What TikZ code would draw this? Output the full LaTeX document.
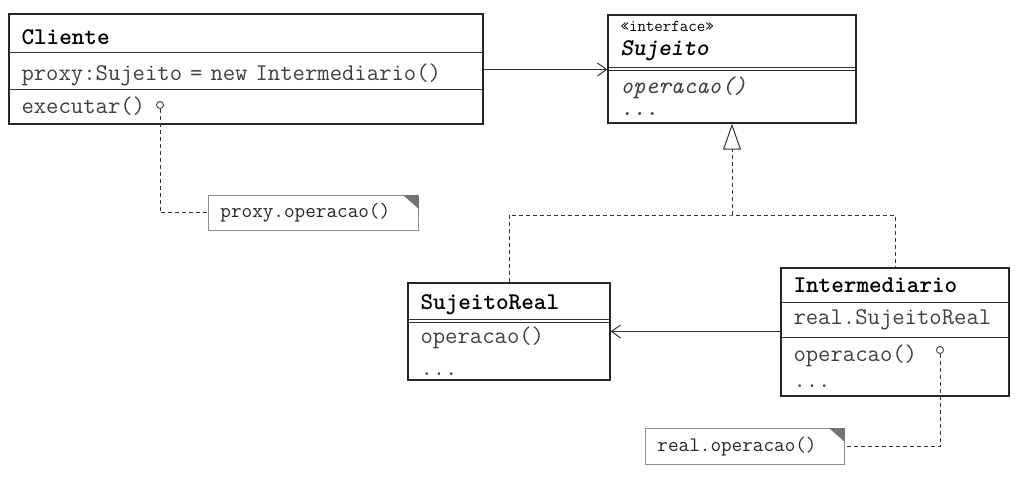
\documentclass[tikz,border=0pt]{standalone}
\usepackage{fontspec}
\usetikzlibrary{arrows.meta,fit}

\newcommand{\umlfont}{\fontsize{24}{26}\selectfont\ttfamily}
\newcommand{\notefont}{\fontsize{20.6}{23}\selectfont\ttfamily}
\newcommand{\stereofont}{\fontsize{16.5}{18}\selectfont\ttfamily}

\begin{document}
\begin{tikzpicture}[
  x=1pt, y=-1pt,
  >={Straight Barb[length=9pt,width=13pt]},
  every node/.style={font=\umlfont},
  compart/.style={draw=black!80, line width=1pt, anchor=north west, inner xsep=12pt,
    inner ysep=0pt, align=left, text=black!75},
  classname/.style={compart, text=black, font=\umlfont\bfseries},
  frame/.style={draw=black!85, line width=1.4pt, inner sep=0pt},
  note/.style={draw=black!45, line width=0.9pt, anchor=north west, inner xsep=12pt,
    inner ysep=0pt, align=left, font=\notefont, text=black!85},
  link/.style={draw=black!80, line width=1pt, dash pattern=on 4pt off 3pt},
  hook/.style={circle, draw=black!75, line width=0.9pt, fill=white, minimum size=7pt, inner sep=0pt},
  assoc/.style={->, draw=black!80, line width=1pt}
]
  \fill[white] (0,0) rectangle (1018,485);
  \useasboundingbox (0,0) rectangle (1018,485);

  % Cliente
  \node[classname, text width=449pt, minimum height=38pt, text height=23pt, text depth=2pt] (clihead) at (9,14) {Cliente};
  \node[compart, text width=449pt, minimum height=37pt, text height=21pt, text depth=3pt] (cliattr) at (9,52) {proxy:Sujeito = new Intermediario()};
  \node[compart, text width=449pt, minimum height=34pt, text height=18pt, text depth=5pt] (cliops) at (9,89) {executar()};
  \node[frame, fit=(clihead) (cliops)] (cliente) {};

  % Sujeito
  \node[compart, text=black, text width=223pt, minimum height=52pt] (sujhead) at (608,15)
    {{\stereofont «interface»}\\[-2pt]{\itshape\bfseries Sujeito}};
  \node[compart, text width=223pt, minimum height=52pt] (sujops) at (608,70)
    {\itshape operacao()\\[-4pt]...};
  \node[frame, fit=(sujhead) (sujops)] (sujeito) {};

  % SujeitoReal
  \node[classname, text width=177pt, minimum height=36pt, text height=19pt, text depth=4pt] (srealhead) at (408,283) {SujeitoReal};
  \node[compart, text width=177pt, minimum height=57pt] (srealops) at (408,322) {operacao()\\[6pt]...};
  \node[frame, fit=(srealhead) (srealops)] (sreal) {};

  % Intermediario
  \node[classname, text width=203pt, minimum height=34pt] (interhead) at (781,268) {Intermediario};
  \node[compart, text width=203pt, minimum height=35pt] (interattr) at (781,302) {real.SujeitoReal};
  \node[compart, text width=203pt, minimum height=58pt] (interops) at (781,337) {operacao()\\[0pt]...};
  \node[frame, fit=(interhead) (interops)] (inter) {};

  % notes
  \node[note, text width=186pt, minimum height=35pt] (proxynote) at (208,195) {proxy.operacao()};
  \fill[black!55] (proxynote.north east) -- ++(-16,0) -- ++(16,14) -- cycle;
  \node[note, text width=175pt, minimum height=36pt] (realnote) at (645,428) {real.operacao()};
  \fill[black!55] (realnote.north east) -- ++(-16,0) -- ++(16,14) -- cycle;

  % connectors
  \draw[assoc] ([yshift=1.5pt]cliattr.east) -- ([yshift=1.5pt]cliattr.east -| sujeito.west);
  \draw[assoc] ([yshift=-11.5pt]interattr.west) -- ([yshift=-11.5pt]interattr.west -| sreal.east);

  \coordinate (join) at (sujeito.south |- 0,215);
  \draw[link] (sreal.north) |- (join) -| (inter.north);
  \draw[link, -{Triangle[open, length=26pt, width=18pt, line width=1pt]}] (join) -- (sujeito.south);

  \node[hook] (clihook) at (160,105) {};
  \node[hook] (interhook) at (940,350) {};
  \draw[link] (clihook.south) |- (proxynote.west);
  \draw[link] (interhook.south) |- (realnote.east);
\end{tikzpicture}
\end{document}
